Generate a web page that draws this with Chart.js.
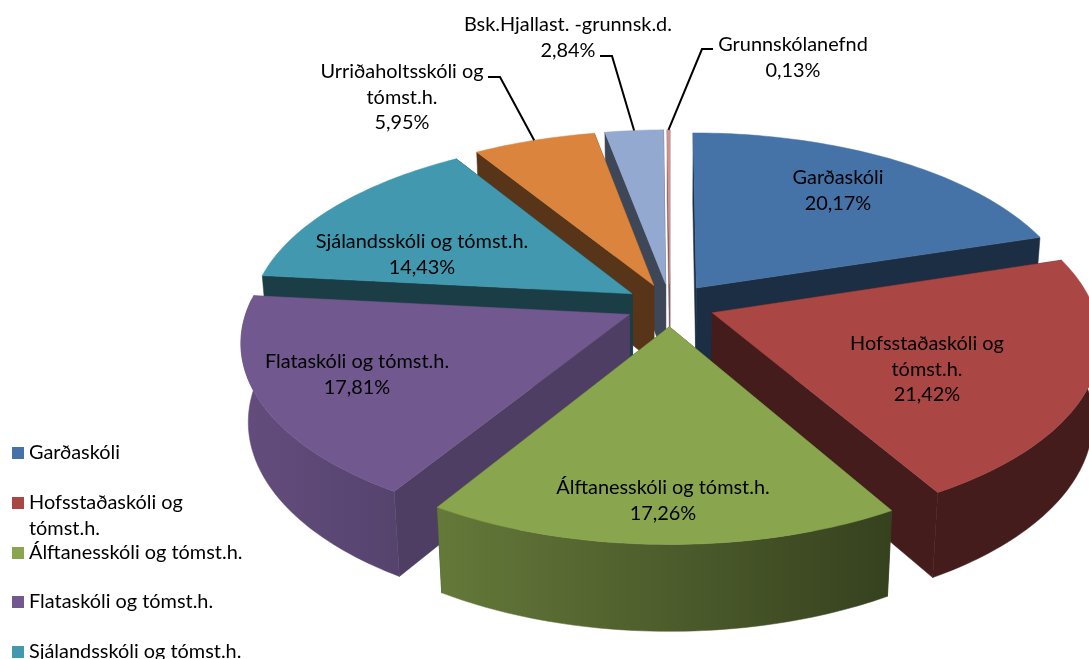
<!DOCTYPE html>
<html><head><meta charset="utf-8">
<style>html,body{margin:0;padding:0;background:#fff;overflow:hidden}canvas{display:block}</style>
<script src="https://cdn.jsdelivr.net/npm/chart.js@4"></script></head>
<body><canvas id="c" width="1089" height="659"></canvas>
<script>
const categories=["Garðaskóli","Hofsstaðaskóli og tómst.h.","Álftanesskóli og tómst.h.","Flataskóli og tómst.h.","Sjálandsskóli og tómst.h.","Urriðaholtsskóli og tómst.h.","Bsk.Hjallast. -grunnsk.d.","Grunnskólanefnd"];
const values=[20.17,21.42,17.26,17.81,14.43,5.95,2.84,0.13];
const colors=["#4572A7","#AA4643","#89A54E","#71588F","#4198AF","#DB843D","#93A9CF","#D19392"];
const faceShade=[.4,.4,.4,.7,.4,.4,.42,.6];
const labelLines=[["Garðaskóli"],["Hofsstaðaskóli og","tómst.h."],["Álftanesskóli og tómst.h."],["Flataskóli og tómst.h."],["Sjálandsskóli og tómst.h."],["Urriðaholtsskóli og","tómst.h."],["Bsk.Hjallast. -grunnsk.d."],["Grunnskólanefnd"]];
const labelPos=[[838,178],[927,344],[663,488],[357,362],[422,242],[402,72],[568,25],[793,45]];
const leaders={5:[[488,77],[500,77]],6:[[600,56],[612,56]],7:[[713,49],[702,49]]};
const legendRows=[[0,453,["Garðaskóli"]],[1,503,["Hofsstaðaskóli og","tómst.h."]],[2,553,["Álftanesskóli og tómst.h."]],[3,602,["Flataskóli og tómst.h."]],[4,652,["Sjálandsskóli og tómst.h."]]];
const fmt=v=>v.toFixed(2).replace('.',',')+'%';
const G={cx:670,cy:305,R:381,e:45,k:.475,d:2750,h:79,zs:.017,wallCut:.1};
const FONT='19.9px Lato';
function proj(X,Y,bottom){
  const den=1+Y/G.d+(bottom?G.zs:0);
  return [G.cx+X/den,G.cy+(-G.k*Y+(bottom?G.h:0))/den];
}
function rgb(hex,f){const n=parseInt(hex.slice(1),16);return `rgb(${Math.round((n>>16&255)*f)},${Math.round((n>>8&255)*f)},${Math.round((n&255)*f)})`;}
function wallGrad(ctx,hex){const g=ctx.createLinearGradient(240,0,900,0);g.addColorStop(0,rgb(hex,.88));g.addColorStop(1,rgb(hex,.39));return g;}
function poly(ctx,pts,fill){ctx.beginPath();pts.forEach((p,i)=>i?ctx.lineTo(p[0],p[1]):ctx.moveTo(p[0],p[1]));ctx.closePath();ctx.fillStyle=fill;ctx.fill();ctx.strokeStyle=fill;ctx.lineWidth=.5;ctx.stroke();}
const pie3d={id:'pie3d',
 beforeDatasetDraw(chart,args){
  const ctx=chart.ctx,arcs=chart.getDatasetMeta(0).data;
  const slices=arcs.map((a,i)=>{const s=a.startAngle+Math.PI/2,t=a.endAngle+Math.PI/2,m=(s+t)/2;
    return {i,s,t,m,ox:G.e*Math.sin(m),oy:G.e*Math.cos(m)};});
  const pt=(sl,th,r,b)=>proj(sl.ox+r*Math.sin(th),sl.oy+r*Math.cos(th),b);
  const order=slices.slice().sort((a,b)=>Math.cos(b.m)-Math.cos(a.m));
  ctx.save();
  for(const sl of order){
    const col=colors[sl.i],n=Math.max(2,Math.ceil((sl.t-sl.s)/.02)),rim=[];
    for(let j=0;j<=n;j++)rim.push(sl.s+(sl.t-sl.s)*j/n);
    const face=rgb(col,faceShade[sl.i]);
    for(const th of [sl.s,sl.t])poly(ctx,[pt(sl,0,0,0),pt(sl,th,G.R,0),pt(sl,th,G.R,1),pt(sl,0,0,1)],face);
    const vis=rim.filter(a=>Math.cos(a)<G.wallCut);
    if(vis.length>1)poly(ctx,vis.map(a=>pt(sl,a,G.R,0)).concat(vis.slice().reverse().map(a=>pt(sl,a,G.R,1))),sl.i==1?rgb(col,.4):wallGrad(ctx,col));
    poly(ctx,[pt(sl,0,0,0)].concat(rim.map(a=>pt(sl,a,G.R,0))),col);
  }
  ctx.strokeStyle='#000';ctx.lineWidth=2;
  for(const k in leaders){const sl=slices[k],e=pt(sl,sl.m,G.R,0);
    ctx.beginPath();leaders[k].forEach((p,i)=>i?ctx.lineTo(p[0],p[1]):ctx.moveTo(p[0],p[1]));ctx.lineTo(e[0],e[1]);ctx.stroke();}
  ctx.fillStyle='#000';ctx.font=FONT;ctx.textAlign='center';ctx.textBaseline='middle';
  labelLines.forEach((ls,i)=>{const [x,y]=labelPos[i];ls.concat([fmt(values[i])]).forEach((t,j)=>ctx.fillText(t,x,y+j*25.5));});
  ctx.textAlign='left';
  legendRows.forEach(([i,y,ls])=>{ctx.fillStyle=colors[i];ctx.fillRect(12,y-6,12,12);ctx.fillStyle='#000';
    ls.forEach((t,j)=>ctx.fillText(t,29,y+j*26));});
  ctx.restore();
  return false;
 }};
new Chart(document.getElementById('c'),{type:'pie',
 data:{labels:categories,datasets:[{data:values,backgroundColor:colors,borderWidth:0}]},
 options:{responsive:false,animation:false,rotation:0,plugins:{legend:{display:false},tooltip:{enabled:false}}},
 plugins:[pie3d]});
</script></body></html>
